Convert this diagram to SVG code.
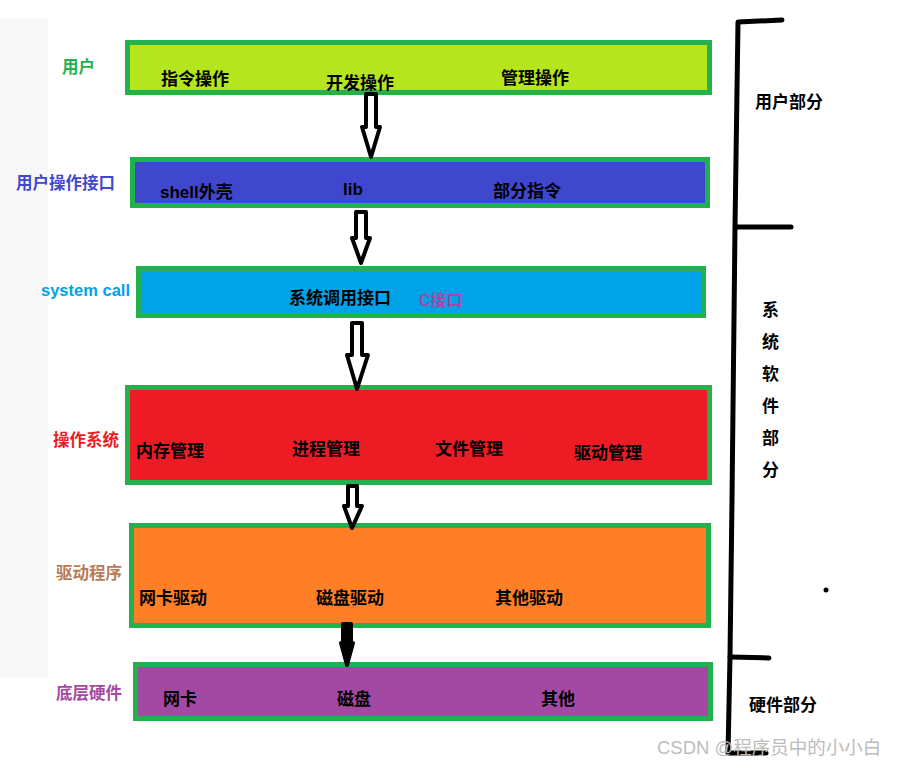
<svg xmlns="http://www.w3.org/2000/svg" width="902" height="766" viewBox="0 0 902 766">
<style>
  .box { stroke: #22b14c; stroke-width: 5; }
  .t { font-family: "Liberation Sans","Noto Sans CJK SC",sans-serif; font-size: 17px; font-weight: bold; fill: #000; }
  .lbl { font-family: "Liberation Sans","Noto Sans CJK SC",sans-serif; font-size: 16.5px; font-weight: bold; }
  .arrow { fill: #fff; stroke: #000; stroke-width: 4; stroke-linejoin: round; }
  .brace { fill: none; stroke: #000; stroke-width: 5; stroke-linecap: round; stroke-linejoin: round; }
</style>
<rect x="0" y="0" width="902" height="766" fill="#fff"/>
<rect x="0" y="19" width="48" height="659" fill="#f8f8f8"/>

<g id="layer-user">
  <rect class="box" x="127.5" y="42.5" width="582" height="50" fill="#b5e61d"/>
  <text class="lbl" x="62" y="73" fill="#22b14c">用户</text>
  <text class="t" x="161" y="85">指令操作</text>
  <text class="t" x="326" y="89">开发操作</text>
  <text class="t" x="501" y="84">管理操作</text>
</g>

<g id="layer-interface">
  <rect class="box" x="132.5" y="159.5" width="575" height="46" fill="#3f48cc"/>
  <text class="lbl" x="16" y="189" fill="#3f48cc">用户操作接口</text>
  <text class="t" x="160" y="198">shell外壳</text>
  <text class="t" x="343" y="195">lib</text>
  <text class="t" x="493" y="197">部分指令</text>
</g>

<g id="layer-syscall">
  <rect class="box" x="138.5" y="268.5" width="565" height="47" fill="#00a2e8"/>
  <text class="lbl" x="41" y="296" fill="#00a2e8">system call</text>
  <text class="t" x="289" y="304">系统调用接口</text>
  <text x="419" y="306" font-family="Liberation Sans,Noto Sans CJK SC,sans-serif" font-size="16" font-weight="bold" fill="#a349a4">C接口</text>
</g>

<g id="layer-os">
  <rect class="box" x="127.5" y="387.5" width="582" height="95" fill="#ed1c24"/>
  <text class="lbl" x="53" y="446" fill="#ed1c24">操作系统</text>
  <text class="t" x="136" y="457">内存管理</text>
  <text class="t" x="292" y="455">进程管理</text>
  <text class="t" x="435" y="455">文件管理</text>
  <text class="t" x="574" y="459">驱动管理</text>
</g>

<g id="layer-driver">
  <rect class="box" x="131.5" y="525.5" width="577" height="100" fill="#ff7f27"/>
  <text class="lbl" x="56" y="579" fill="#b97a57">驱动程序</text>
  <text class="t" x="139" y="604">网卡驱动</text>
  <text class="t" x="316" y="604">磁盘驱动</text>
  <text class="t" x="495" y="604">其他驱动</text>
</g>

<g id="layer-hardware">
  <rect class="box" x="135.5" y="664.5" width="575" height="54" fill="#a349a4"/>
  <text class="lbl" x="56" y="699" fill="#a349a4">底层硬件</text>
  <text class="t" x="163" y="705">网卡</text>
  <text class="t" x="337" y="705">磁盘</text>
  <text class="t" x="541" y="705">其他</text>
</g>

<g id="connectors">
  <path class="arrow" d="M366,94 L376,94 L376,127 L380,127 L371,157 L362,127 L366,127 Z"/>
  <path class="arrow" d="M356,212 L366,212 L366,238 L370,238 L361,263 L352,238 L356,238 Z"/>
  <path class="arrow" d="M352,323 L362,323 L362,355 L368,355 L357,389 L347,355 L352,355 Z"/>
  <path class="arrow" d="M348,486 L357,486 L357,506 L362,506 L352,528 L344,506 L348,506 Z"/>
  <path class="arrow" style="fill:#000" d="M343,624 L351,624 L351,643 L353,643 L347,665 L341,643 L343,643 Z"/>
</g>

<g id="brace">
  <path class="brace" d="M782,20 L738,22 L735,227 L732,500 L730,657 L728,753 L766,753"/>
  <path class="brace" d="M736,227 L791,227"/>
  <path class="brace" d="M730,657 L769,658"/>
  <circle cx="826" cy="590" r="2.5" fill="#000"/>
  <text class="t" x="755" y="108">用户部分</text>
  <text class="t" x="762" y="316">系</text>
  <text class="t" x="762" y="348">统</text>
  <text class="t" x="762" y="380">软</text>
  <text class="t" x="762" y="412">件</text>
  <text class="t" x="762" y="444">部</text>
  <text class="t" x="762" y="476">分</text>
  <text class="t" x="749" y="711">硬件部分</text>
</g>

<text x="657" y="754" font-family="Liberation Sans,Noto Sans CJK SC,sans-serif" font-size="18.5" fill="#bcbcbc">CSDN @程序员中的小小白</text>
</svg>
